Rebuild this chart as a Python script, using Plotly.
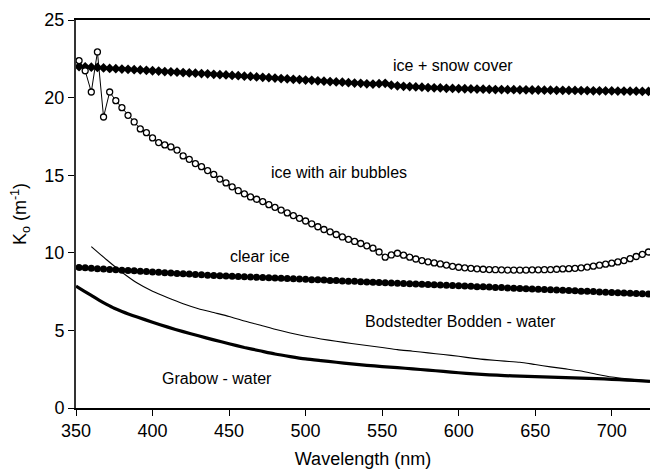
import plotly.graph_objects as go

# ---- data ----
wl_markers = list(range(352, 725, 4))  # sampling of the marker series (nm)

ice_snow = [22.00, 21.98, 21.96, 21.94, 21.91, 21.88, 21.86, 21.84, 21.82, 21.80,
            21.78, 21.76, 21.73, 21.71, 21.68, 21.66, 21.64, 21.61, 21.59, 21.57,
            21.55, 21.53, 21.50, 21.48, 21.46, 21.43, 21.41, 21.38, 21.36, 21.33,
            21.31, 21.28, 21.26, 21.23, 21.21, 21.18, 21.16, 21.13, 21.11, 21.08,
            21.06, 21.03, 21.01, 20.99, 20.96, 20.94, 20.92, 20.89, 20.87, 20.90,
            20.92, 20.80, 20.76, 20.73, 20.71, 20.69, 20.67, 20.65, 20.63, 20.62,
            20.60, 20.59, 20.58, 20.57, 20.56, 20.55, 20.54, 20.53, 20.52, 20.52,
            20.51, 20.51, 20.50, 20.50, 20.49, 20.49, 20.48, 20.48, 20.47, 20.47,
            20.46, 20.46, 20.45, 20.45, 20.44, 20.44, 20.43, 20.43, 20.42, 20.42,
            20.41, 20.41, 20.40, 20.40]

ice_bubbles = [22.38, 21.73, 20.36, 22.94, 18.75, 20.36, 19.80, 19.35, 18.86, 18.43,
               17.98, 17.74, 17.40, 17.10, 16.95, 16.82, 16.62, 16.24, 16.02, 15.75,
               15.55, 15.30, 15.05, 14.75, 14.50, 14.25, 14.00, 13.80, 13.60, 13.45,
               13.30, 13.10, 12.93, 12.75, 12.57, 12.40, 12.22, 12.05, 11.87, 11.68,
               11.50, 11.35, 11.18, 11.02, 10.87, 10.73, 10.60, 10.45, 10.30, 10.05,
               9.72, 9.86, 9.97, 9.85, 9.72, 9.60, 9.50, 9.42, 9.35, 9.28,
               9.21, 9.13, 9.07, 9.03, 9.00, 8.97, 8.94, 8.92, 8.91, 8.90,
               8.89, 8.89, 8.89, 8.89, 8.90, 8.90, 8.91, 8.92, 8.94, 8.96,
               8.98, 9.00, 9.03, 9.08, 9.14, 9.20, 9.27, 9.33, 9.41, 9.50,
               9.62, 9.76, 9.90, 10.05]

clear_ice = [9.05, 9.03, 9.00, 8.98, 8.95, 8.93, 8.91, 8.88, 8.86, 8.84,
             8.81, 8.79, 8.77, 8.74, 8.72, 8.70, 8.67, 8.65, 8.63, 8.60,
             8.58, 8.56, 8.54, 8.52, 8.51, 8.49, 8.47, 8.46, 8.44, 8.42,
             8.41, 8.39, 8.37, 8.36, 8.34, 8.32, 8.31, 8.29, 8.27, 8.26,
             8.24, 8.22, 8.21, 8.19, 8.17, 8.16, 8.14, 8.12, 8.11, 8.09,
             8.07, 8.06, 8.04, 8.02, 8.01, 7.99, 7.97, 7.96, 7.94, 7.93,
             7.91, 7.89, 7.88, 7.86, 7.84, 7.82, 7.81, 7.79, 7.77, 7.76,
             7.74, 7.72, 7.70, 7.69, 7.67, 7.65, 7.64, 7.62, 7.60, 7.58,
             7.57, 7.55, 7.53, 7.52, 7.50, 7.48, 7.46, 7.45, 7.43, 7.41,
             7.40, 7.38, 7.36, 7.35]

wl_bodden = [360, 370, 380, 390, 400, 410, 420, 430, 440, 450, 460, 470, 480, 490,
             500, 510, 520, 530, 540, 550, 560, 570, 580, 590, 600, 610, 620, 630,
             640, 650, 660, 670, 680, 690, 700, 710, 720, 725]
bodden_water = [10.40, 9.55, 8.75, 8.05, 7.52, 7.10, 6.72, 6.40, 6.15, 5.90, 5.60, 5.35,
                5.07, 4.83, 4.62, 4.45, 4.30, 4.16, 4.03, 3.90, 3.76, 3.66, 3.55, 3.45,
                3.33, 3.20, 3.10, 3.02, 2.95, 2.80, 2.65, 2.52, 2.38, 2.18, 2.00, 1.88,
                1.78, 1.75]

wl_grabow = [350, 355, 360, 365, 370, 375, 380, 390, 400, 410, 420, 430, 440, 450,
             460, 470, 480, 490, 500, 510, 520, 530, 540, 550, 560, 570, 580, 590,
             600, 610, 620, 630, 640, 650, 660, 670, 680, 690, 700, 710, 720, 725]
grabow_water = [7.85, 7.55, 7.25, 6.95, 6.68, 6.43, 6.22, 5.86, 5.53, 5.21, 4.92, 4.65,
                4.39, 4.14, 3.90, 3.69, 3.48, 3.31, 3.16, 3.05, 2.95, 2.84, 2.75, 2.67,
                2.60, 2.52, 2.44, 2.36, 2.27, 2.20, 2.14, 2.09, 2.05, 2.02, 1.99, 1.96,
                1.92, 1.89, 1.85, 1.80, 1.75, 1.72]

labels = ["ice + snow cover", "ice with air bubbles", "clear ice",
          "Bodstedter Bodden - water", "Grabow - water"]
label_x = [596, 522, 470, 601, 442]
label_y = [22.1, 15.15, 9.75, 5.55, 1.93]

x_ticks = [350, 400, 450, 500, 550, 600, 650, 700]
y_ticks = [0, 5, 10, 15, 20, 25]

assert len(ice_snow) == len(wl_markers)
assert len(ice_bubbles) == len(wl_markers)
assert len(clear_ice) == len(wl_markers)
assert len(bodden_water) == len(wl_bodden)
assert len(grabow_water) == len(wl_grabow)

FONT = "Liberation Sans, Arial, sans-serif"

fig = go.Figure()
fig.add_trace(go.Scatter(x=wl_bodden, y=bodden_water, mode="lines",
                         line=dict(color="black", width=1.1, shape="spline", smoothing=0.6)))
fig.add_trace(go.Scatter(x=wl_grabow, y=grabow_water, mode="lines",
                         line=dict(color="black", width=3.2, shape="spline", smoothing=0.6)))
fig.add_trace(go.Scatter(x=wl_markers, y=clear_ice, mode="lines+markers",
                         line=dict(color="black", width=1),
                         marker=dict(symbol="circle", size=7, color="black")))
fig.add_trace(go.Scatter(x=wl_markers, y=ice_snow, mode="lines+markers",
                         line=dict(color="black", width=1),
                         marker=dict(symbol="diamond", size=7.5, color="black")))
fig.add_trace(go.Scatter(x=wl_markers, y=ice_bubbles, mode="lines+markers",
                         line=dict(color="black", width=1),
                         marker=dict(symbol="circle", size=6, color="white",
                                     line=dict(color="black", width=1.3))))

for t, xx, yy in zip(labels, label_x, label_y):
    fig.add_annotation(x=xx, y=yy, text=t, showarrow=False,
                       font=dict(family=FONT, size=16, color="black"))

fig.update_layout(
    width=650, height=473,
    margin=dict(l=76, r=0, t=20, b=65),
    paper_bgcolor="white", plot_bgcolor="white",
    showlegend=False,
    font=dict(family=FONT, color="black"),
)
fig.update_xaxes(range=[350, 725], tickvals=x_ticks, ticks="outside", ticklen=6,
                 tickwidth=1.2, tickcolor="black", showline=True, linecolor="black",
                 linewidth=1.5, mirror=True, showgrid=False, zeroline=False,
                 tickfont=dict(size=18, family=FONT),
                 title=dict(text="Wavelength (nm)", font=dict(size=18, family=FONT),
                            standoff=12))
fig.update_yaxes(range=[0, 25], tickvals=y_ticks, ticks="outside", ticklen=6,
                 tickwidth=1.2, tickcolor="black", showline=True, linecolor="#333",
                 linewidth=2, showgrid=False, zeroline=False,
                 tickfont=dict(size=18, family=FONT),
                 title=dict(text="K<sub>o</sub> (m<sup>-1</sup>)",
                            font=dict(size=18, family=FONT), standoff=13))

fig.write_html("out.html")
